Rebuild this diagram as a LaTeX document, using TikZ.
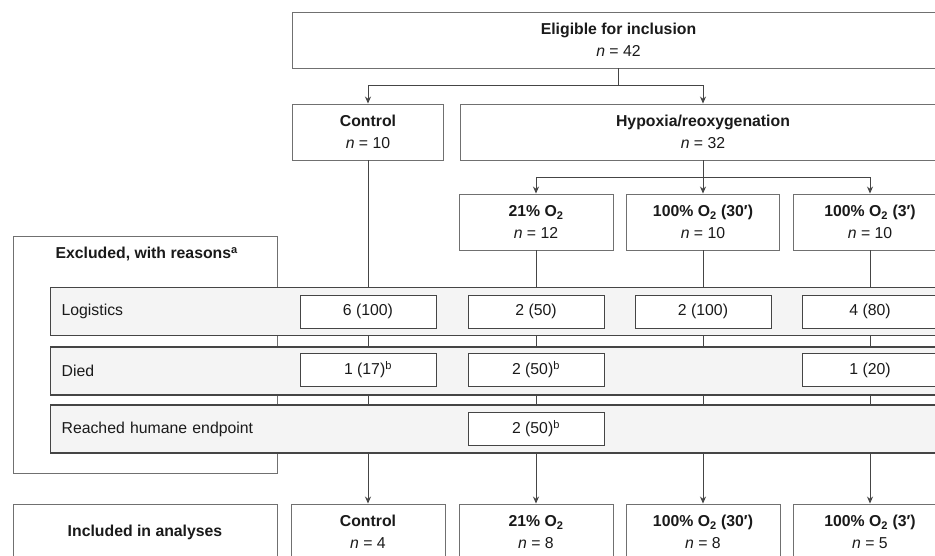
\documentclass[tikz,border=0pt]{standalone}
\usepackage{fontspec}
\setmainfont{Liberation Sans}
\usetikzlibrary{arrows.meta}
\definecolor{boxgray}{HTML}{707070}
\definecolor{bandgray}{HTML}{454545}
\definecolor{bandfill}{HTML}{F4F4F4}
\definecolor{inkgray}{HTML}{1A1A1A}

\begin{document}
\begin{tikzpicture}[x=1pt,y=-1pt,
  every node/.style={text=inkgray, font=\fontsize{15.8}{22}\selectfont},
  box/.style={draw=boxgray, line width=0.9pt, fill=white, minimum width=154pt, minimum height=56pt, align=center, inner sep=0pt},
  cell/.style={draw=bandgray, line width=1pt, fill=white, minimum width=136pt, minimum height=33pt, inner sep=0pt},
  band/.style={draw=bandgray, line width=1.2pt, fill=bandfill, anchor=west, minimum height=48pt, text width=873pt, inner xsep=11pt, inner ysep=0pt, align=left},
  link/.style={draw=bandgray, line width=0.9pt},
  arr/.style={link, -{Stealth[length=7pt, width=6pt]}}]
\useasboundingbox (0,0) rectangle (935,555);
\clip (0,0) rectangle (935,555);

% frame for the exclusions
\node[draw=boxgray, line width=0.9pt, minimum width=264pt, minimum height=237pt, inner sep=0pt] (excl) at (145,354.5) {};
\node[anchor=west] (excllbl) at (52,254) {\textbf{Excluded, with reasons\textsuperscript{a}}};

% groups
\node[box, minimum width=653pt] (elig) at (618.5,40) {\textbf{Eligible for inclusion}\\\textit{n} = 42};
\node[box, minimum width=151pt] (ctrl) at (368,132) {\textbf{Control}\\\textit{n} = 10};
\node[box, minimum width=486pt] (hyp) at (703,132) {\textbf{Hypoxia/reoxygenation}\\\textit{n} = 32};
\node[box] (o21) at (536,222) {\textbf{21\% O\textsubscript{2}}\\\textit{n} = 12};
\node[box, minimum width=153pt] (o30) at (703,222) {\textbf{100\% O\textsubscript{2} (30′)}\\\textit{n} = 10};
\node[box] (o3) at (870,222) {\textbf{100\% O\textsubscript{2} (3′)}\\\textit{n} = 10};

% analysed
\node[box, minimum width=264pt] (incl) at (145,532) {\textbf{Included in analyses}};
\node[box] (inCtrl) at (368,532) {\textbf{Control}\\\textit{n} = 4};
\node[box] (in21) at (536,532) {\textbf{21\% O\textsubscript{2}}\\\textit{n} = 8};
\node[box] (in30) at (703,532) {\textbf{100\% O\textsubscript{2} (30′)}\\\textit{n} = 8};
\node[box] (in3) at (870,532) {\textbf{100\% O\textsubscript{2} (3′)}\\\textit{n} = 5};

% splits
\coordinate (split1) at (618.5,85);
\coordinate (split2) at (703,177);
\draw[link] (elig.south) -- (split1);
\draw[arr] (split1) -| (ctrl);
\draw[arr] (split1) -| (hyp);
\draw[link] (hyp.south) -- (split2);
\draw[arr] (split2) -| (o21);
\draw[arr] (split2) -- (o30);
\draw[arr] (split2) -| (o3);

% columns run behind the bands
\draw[arr] (ctrl) -- (inCtrl);
\draw[arr] (o21) -- (in21);
\draw[arr] (o30) -- (in30);
\draw[arr] (o3) -- (in3);

% reasons
\node[band] (logi) at (50,311.5) {Logistics};
\node[band] (died) at (50,371) {Died};
\node[band] (humane) at (50,429) {Reached humane endpoint};

\node[cell] (logiCtrl) at (368,311.5) {6 (100)};
\node[cell] (logi21) at (536,311.5) {2 (50)};
\node[cell] (logi30) at (703,311.5) {2 (100)};
\node[cell] (logi3) at (870,311.5) {4 (80)};
\node[cell] (diedCtrl) at (368,370) {1 (17)\textsuperscript{b}};
\node[cell] (died21) at (536,370) {2 (50)\textsuperscript{b}};
\node[cell] (died3) at (870,370) {1 (20)};
\node[cell] (humane21) at (536,429) {2 (50)\textsuperscript{b}};
\end{tikzpicture}
\end{document}
